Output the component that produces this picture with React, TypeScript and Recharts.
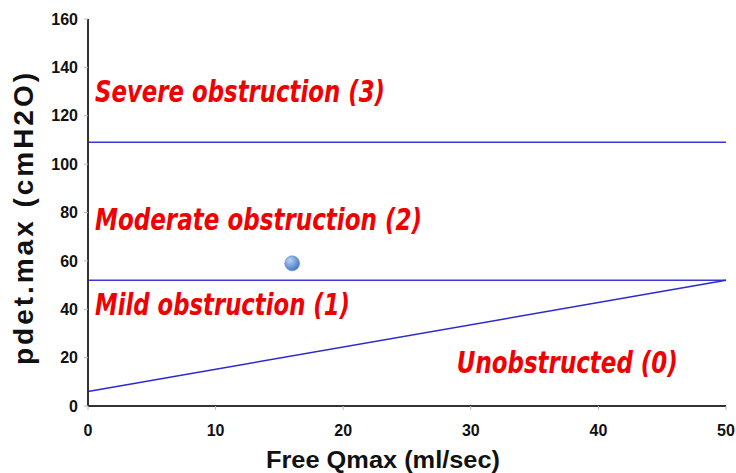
import React from 'react';
import {
  ComposedChart,
  Line,
  Scatter,
  XAxis,
  YAxis,
  ReferenceDot,
} from 'recharts';

// Qmax end points of the nomogram boundaries
const qmaxEnds = [0, 50];
// pdet.max of each boundary at those end points
const severeBoundary = [109, 109];
const mildBoundary = [52, 52];
const unobstructedBoundary = [6, 52];

// the patient
const patientQmax = [16];
const patientPdet = [59];

const xTicks = [0, 10, 20, 30, 40, 50];
const yTicks = [0, 20, 40, 60, 80, 100, 120, 140, 160];

// zone names and where they sit (data coordinates of text start / baseline)
const zoneNames = ['Severe obstruction (3)', 'Moderate obstruction (2)', 'Mild obstruction (1)', 'Unobstructed (0)'];
const zoneX = [0.55, 0.55, 0.55, 28.9];
const zoneY = [125.7, 72.8, 37.6, 13.6];
const zoneWidth = [290, 327, 255, 221];

const boundaryData = qmaxEnds.map((q, i) => ({
  x: q,
  severe: severeBoundary[i],
  mild: mildBoundary[i],
  unobstructed: unobstructedBoundary[i],
}));

const patientData = patientQmax.map((q, i) => ({ x: q, pdet: patientPdet[i] }));

const narrow = '"Liberation Sans Narrow", "Liberation Sans", Arial, sans-serif';

const tickStyle = {
  fill: '#111',
  fontSize: 16,
  fontWeight: 700,
  fontFamily: narrow,
};

const PatientDot = (props: any) => {
  const { cx, cy } = props;
  if (cx == null || cy == null) return null;
  return <circle cx={cx} cy={cy} r={7.5} fill="url(#dotGrad)" stroke="#5a86c8" strokeWidth={0.5} />;
};

export default function App() {
  return (
    <div style={{ position: 'absolute', left: 0, top: 0, background: '#fff' }}>
      <ComposedChart
        width={736}
        height={473}
        data={boundaryData}
        margin={{ top: 19, right: 10, bottom: 0, left: 0 }}
      >
        <defs>
          <radialGradient id="dotGrad" cx="35%" cy="30%" r="75%">
            <stop offset="0%" stopColor="#b8d2f4" />
            <stop offset="100%" stopColor="#3f72c4" />
          </radialGradient>
        </defs>
        <XAxis
          dataKey="x"
          type="number"
          domain={[0, 50]}
          ticks={xTicks}
          height={67}
          tick={tickStyle}
          tickSize={4}
          tickMargin={15}
          tickLine={{ stroke: '#bbb' }}
          axisLine={{ stroke: '#333', strokeWidth: 2 }}
          label={{
            content: (p: any) => (
              <text
                x={p.viewBox.x + 295}
                y={468}
                textAnchor="middle"
                fontSize={24}
                fontWeight={700}
                fill="#111"
                fontFamily={narrow}
                textLength={234}
                lengthAdjust="spacingAndGlyphs"
              >
                Free Qmax (ml/sec)
              </text>
            ),
          }}
        />
        <XAxis
          xAxisId="top"
          orientation="top"
          type="number"
          domain={[0, 50]}
          height={0}
          tick={false}
          tickLine={false}
          axisLine={{ stroke: '#444', strokeWidth: 1.2 }}
        />
        <YAxis
          type="number"
          domain={[0, 160]}
          ticks={yTicks}
          width={88}
          tick={tickStyle}
          tickSize={4}
          tickMargin={6}
          tickLine={{ stroke: '#bbb' }}
          axisLine={{ stroke: '#333', strokeWidth: 2 }}
          label={{
            content: () => (
              <text
                x={0}
                y={0}
                transform="translate(33, 219) rotate(-90)"
                textAnchor="middle"
                fontSize={28}
                fontWeight={700}
                fill="#111"
                fontFamily='"Liberation Sans", Arial, sans-serif'
                textLength={292}
                lengthAdjust="spacing"
              >
                pdet.max (cmH2O)
              </text>
            ),
          }}
        />
        <YAxis
          yAxisId="right"
          orientation="right"
          type="number"
          domain={[0, 160]}
          width={0}
          tick={false}
          tickLine={false}
          axisLine={{ stroke: '#444', strokeWidth: 1.2 }}
        />
        <Line
          dataKey="severe"
          type="linear"
          stroke="#3a3ad0"
          strokeWidth={1.5}
          dot={false}
          activeDot={false}
          isAnimationActive={false}
        />
        <Line
          dataKey="mild"
          type="linear"
          stroke="#3a3ad0"
          strokeWidth={1.5}
          dot={false}
          activeDot={false}
          isAnimationActive={false}
        />
        <Line
          dataKey="unobstructed"
          type="linear"
          stroke="#2a2ad0"
          strokeWidth={1.5}
          dot={false}
          activeDot={false}
          isAnimationActive={false}
        />
        <Scatter data={patientData} dataKey="pdet" shape={PatientDot} isAnimationActive={false} />
        {zoneNames.map((name, i) => (
          <ReferenceDot
            key={name}
            x={zoneX[i]}
            y={zoneY[i]}
            r={0}
            ifOverflow="visible"
            shape={(p: any) => (
              <text
                x={0}
                y={0}
                transform={`translate(${p.cx}, ${p.cy}) scale(1, 1.4)`}
                fontSize={22}
                fontWeight={700}
                fontStyle="italic"
                fill="#f00000"
                fontFamily='"DejaVu Sans", Verdana, sans-serif'
                textLength={zoneWidth[i]}
                lengthAdjust="spacingAndGlyphs"
              >
                {name}
              </text>
            )}
          />
        ))}
      </ComposedChart>
    </div>
  );
}
